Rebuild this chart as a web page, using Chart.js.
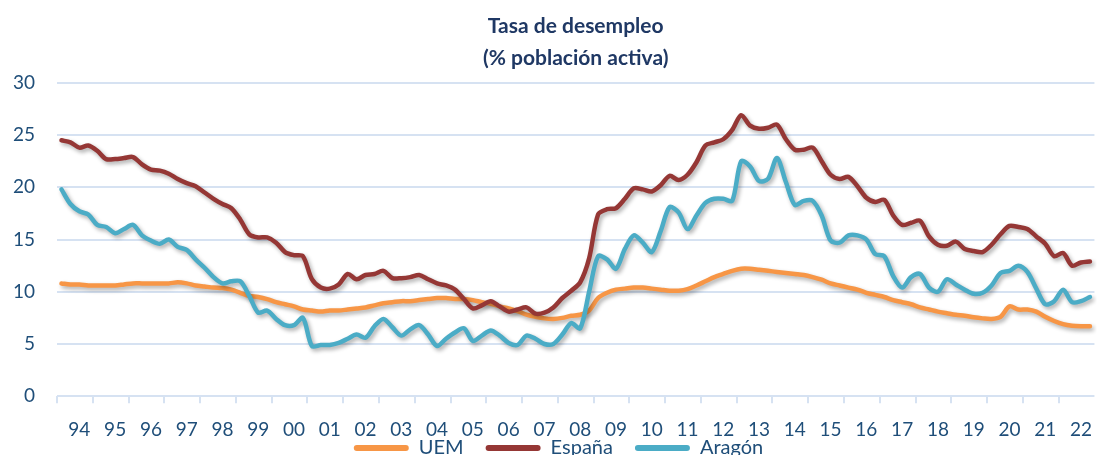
<!DOCTYPE html>
<html>
<head>
<meta charset="utf-8">
<script src="https://cdn.jsdelivr.net/npm/chart.js@4.4.1/dist/chart.umd.min.js"></script>
<style>
html,body{margin:0;padding:0;background:#fff;overflow:hidden;}
#wrap{position:relative;width:1105px;height:508px;}
</style>
</head>
<body>
<div id="wrap"><canvas id="c"></canvas></div>
<script>
// Years covered (quarterly data, T1..T4 each year)
const years = [1994,1995,1996,1997,1998,1999,2000,2001,2002,2003,2004,2005,2006,2007,2008,2009,2010,2011,2012,2013,2014,2015,2016,2017,2018,2019,2020,2021,2022];
const yearLabels = ['94','95','96','97','98','99','00','01','02','03','04','05','06','07','08','09','10','11','12','13','14','15','16','17','18','19','20','21','22'];
const seriesNames = ['UEM','España','Aragón'];

const uem = [
  10.8,10.7,10.7,10.6,10.6,10.6,10.6,10.7,10.8,10.8,
  10.8,10.8,10.8,10.9,10.8,10.6,10.5,10.4,10.35,10.2,
  9.9,9.6,9.5,9.3,9.0,8.8,8.6,8.3,8.2,8.1,
  8.2,8.2,8.3,8.4,8.5,8.7,8.9,9.0,9.1,9.1,
  9.2,9.3,9.4,9.4,9.3,9.3,9.2,9.0,8.85,8.6,
  8.4,8.15,7.8,7.6,7.45,7.4,7.5,7.7,7.8,8.2,
  9.4,9.9,10.2,10.3,10.4,10.4,10.3,10.2,10.1,10.1,
  10.25,10.6,11.0,11.4,11.7,12.0,12.2,12.2,12.1,12.0,
  11.9,11.8,11.7,11.6,11.4,11.15,10.8,10.6,10.4,10.2,
  9.9,9.7,9.5,9.2,9.0,8.8,8.5,8.3,8.1,7.95,
  7.8,7.7,7.55,7.45,7.4,7.6,8.6,8.3,8.3,8.1,
  7.6,7.2,6.9,6.75,6.7,6.7
];
const espana = [
  24.5,24.3,23.8,24.0,23.5,22.7,22.7,22.8,22.9,22.2,
  21.7,21.6,21.3,20.8,20.4,20.1,19.5,18.9,18.4,18.0,
  16.9,15.5,15.2,15.2,14.7,13.8,13.5,13.4,11.2,10.4,
  10.3,10.7,11.7,11.2,11.6,11.7,12.0,11.3,11.3,11.4,
  11.6,11.2,10.8,10.6,10.2,9.3,8.4,8.7,9.1,8.6,
  8.1,8.3,8.5,7.9,8.0,8.5,9.4,10.1,10.9,13.2,
  17.4,17.9,18.0,18.9,19.9,19.8,19.6,20.2,21.1,20.7,
  21.2,22.4,24.0,24.3,24.6,25.5,26.9,25.9,25.6,25.7,
  26.0,24.6,23.6,23.6,23.8,22.5,21.2,20.8,21.0,20.1,
  19.0,18.6,18.8,17.3,16.4,16.6,16.8,15.3,14.5,14.4,
  14.8,14.1,13.9,13.8,14.5,15.5,16.3,16.2,16.0,15.3,
  14.6,13.4,13.7,12.5,12.8,12.9
];
const aragon = [
  19.8,18.4,17.7,17.4,16.4,16.2,15.6,16.0,16.4,15.4,
  14.9,14.6,15.0,14.3,14.0,13.1,12.3,11.4,10.8,11.0,
  11.0,9.6,8.0,8.2,7.4,6.8,6.8,7.5,4.8,4.9,
  4.9,5.1,5.5,5.9,5.6,6.7,7.4,6.6,5.8,6.4,
  6.8,5.9,4.8,5.5,6.1,6.5,5.3,5.8,6.3,5.8,
  5.1,4.9,5.8,5.5,5.0,5.0,5.9,7.0,6.5,10.0,
  13.4,13.1,12.2,14.1,15.4,14.7,13.8,15.8,18.1,17.6,
  16.0,17.3,18.5,18.9,18.9,18.7,22.5,22.0,20.6,20.8,
  22.8,20.5,18.3,18.7,18.7,17.3,14.9,14.7,15.4,15.4,
  15.0,13.6,13.4,11.5,10.4,11.4,11.7,10.4,10.0,11.2,
  10.7,10.2,9.8,9.9,10.6,11.8,12.0,12.5,11.9,10.3,
  8.8,9.1,10.2,9.0,9.1,9.5
];

const quarters = [];
years.forEach(y => { for (let q = 1; q <= 4; q++) quarters.push(y + ' T' + q); });

const FONT = 'Lato, "Open Sans", "Noto Sans", sans-serif';
const TICK_COLOR = '#1F4E79';
const GRID_COLOR = '#D6E2F2';

const shadowPlugin = {
  id: 'lineShadow',
  beforeDatasetDraw(chart) {
    const ctx = chart.ctx;
    ctx.save();
    ctx.shadowColor = 'rgba(0,0,0,0.33)';
    ctx.shadowBlur = 4;
    ctx.shadowOffsetX = 2;
    ctx.shadowOffsetY = 2.5;
  },
  afterDatasetDraw(chart) { chart.ctx.restore(); }
};

// Pull the legend up so it sits tight under the axis labels (as in the reference)
const legendNudge = {
  id: 'legendNudge',
  afterLayout(chart) {
    const lg = chart.legend;
    if (lg) { lg.top -= 40; lg.bottom -= 40; }
  }
};

const mk = (label, data, color, order) => ({
  label, data, order,
  borderColor: color, backgroundColor: color,
  borderWidth: 4.5, pointRadius: 0, pointHoverRadius: 0,
  tension: 0.3, borderCapStyle: 'round', borderJoinStyle: 'round',
  fill: false
});

new Chart(document.getElementById('c'), {
  type: 'line',
  data: {
    labels: quarters,
    datasets: [
      mk(seriesNames[0], uem, '#F79646', 3),
      mk(seriesNames[1], espana, '#953735', 2),
      mk(seriesNames[2], aragon, '#4BACC6', 1)
    ]
  },
  plugins: [shadowPlugin, legendNudge],
  options: {
    responsive: true,
    maintainAspectRatio: false,
    animation: false,
    devicePixelRatio: 1,
    layout: { padding: { left: 12, right: 0, top: 10, bottom: 0 } },
    plugins: {
      tooltip: { enabled: false },
      title: {
        display: true,
        fullSize: false,
        text: ['Tasa de desempleo', '(% población activa)'],
        color: '#1F3864',
        font: { family: FONT, size: 21, weight: 'bold', lineHeight: 1.52 },
        padding: { top: 0, bottom: 9 }
      },
      legend: {
        position: 'bottom',
        labels: {
          font: { family: FONT, size: 20 },
          color: TICK_COLOR,
          boxWidth: 55,
          boxHeight: 6,
          padding: 22,
          useBorderRadius: true,
          borderRadius: 3,
          sort: (a, b) => a.datasetIndex - b.datasetIndex,
          generateLabels: (chart) => Chart.defaults.plugins.legend.labels.generateLabels(chart).map(it => Object.assign(it, { lineWidth: 0, strokeStyle: 'transparent' }))
        }
      }
    },
    scales: {
      x: {
        type: 'category',
        offset: true,
        border: { display: false },
        grid: {
          offset: true,
          drawOnChartArea: false,
          drawTicks: true,
          tickLength: 7,
          lineWidth: 2,
          color: (ctx) => (ctx.index % 4 === 0 ? GRID_COLOR : 'rgba(0,0,0,0)')
        },
        ticks: {
          autoSkip: false,
          maxRotation: 0,
          minRotation: 0,
          padding: 15,
          color: TICK_COLOR,
          font: { family: FONT, size: 19 },
          callback: (val, idx) => (idx % 4 === 2 ? yearLabels[Math.floor(idx / 4)] : '')
        }
      },
      y: {
        min: 0,
        max: 30,
        border: { display: false },
        grid: { color: GRID_COLOR, lineWidth: 2, drawTicks: false },
        ticks: {
          stepSize: 5,
          padding: 22,
          color: TICK_COLOR,
          font: { family: FONT, size: 19 }
        },
        afterFit: (scale) => { scale.width = 45; }
      }
    }
  }
});
</script>
</body>
</html>
